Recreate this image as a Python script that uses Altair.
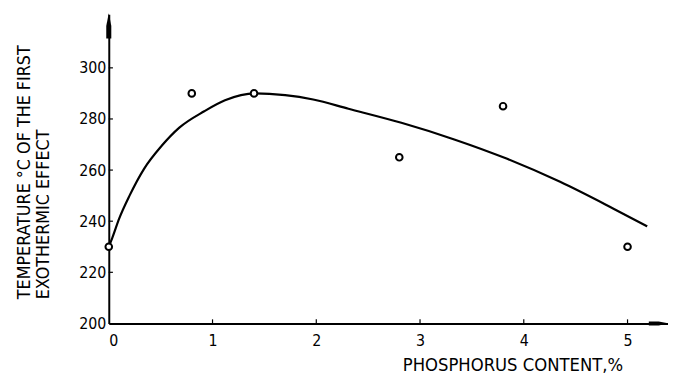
import altair as alt
import pandas as pd

# measured points
pt_x = [0.0, 0.8, 1.4, 2.8, 3.8, 5.0]
pt_y = [230, 290, 290, 265, 285, 230]

# fitted curve
curve_x = [0.0, 0.034, 0.1, 0.2, 0.34, 0.51, 0.68, 0.92, 1.12, 1.41, 1.7, 1.97, 2.31, 2.82, 3.33, 3.84, 4.35, 4.86, 5.19]
curve_y = [230, 233.5, 241, 250, 260.5, 269.5, 276.6, 283, 287.3, 290, 289.3, 287.6, 284, 278.5, 272, 264.4, 255.4, 245, 238]

x_ticks = [0, 1, 2, 3, 4, 5]
y_ticks = [200, 220, 240, 260, 280, 300]

X_MAX = 5.39
Y_MIN, Y_MAX = 200, 321
FONT = "DejaVu Sans Condensed, DejaVu Sans"

pts = pd.DataFrame({"x": pt_x, "y": pt_y})
curve = pd.DataFrame({"x": curve_x, "y": curve_y})

xs = alt.Scale(domain=[0, X_MAX], nice=False, zero=False)
ys = alt.Scale(domain=[Y_MIN, Y_MAX], nice=False, zero=False)

x_axis = alt.Axis(values=x_ticks, format="d", ticks=False, grid=False, domain=True,
                  domainColor="black", domainWidth=2, labelFont=FONT,
                  labelFontSize=16, labelColor="black", labelPadding=9,
                  title="PHOSPHORUS CONTENT,%", titleFont=FONT, titleFontSize=18.5,
                  titleFontWeight="normal", titleColor="black",
                  titleX=520, titleY=42, titleAlign="right", titleBaseline="middle")
y_axis = alt.Axis(values=y_ticks, format="d", ticks=False, grid=False, domain=True,
                  domainColor="black", domainWidth=2, labelFont=FONT,
                  labelFontSize=16, labelColor="black", labelPadding=3,
                  title=["TEMPERATURE °C OF THE FIRST", "EXOTHERMIC EFFECT"],
                  titleFont=FONT, titleFontSize=18, titleFontWeight="normal",
                  titleColor="black", titleAngle=-90, titleX=-76, titleY=288,
                  titleAlign="left", titleBaseline="bottom", titleLineHeight=19)

line = alt.Chart(curve).mark_line(color="black", strokeWidth=2.2, interpolate="monotone").encode(
    x=alt.X("x:Q", scale=xs, axis=x_axis),
    y=alt.Y("y:Q", scale=ys, axis=y_axis),
)

points = alt.Chart(pts).mark_point(shape="circle", filled=True, fill="white",
                                   stroke="black", strokeWidth=2, size=45, opacity=1).encode(
    x=alt.X("x:Q", scale=xs), y=alt.Y("y:Q", scale=ys))

xt = pd.DataFrame({"x": x_ticks[1:], "y": [Y_MIN] * 5, "y2": [Y_MIN + 1.6] * 5})
x_tick_rules = alt.Chart(xt).mark_rule(color="black", strokeWidth=1.2).encode(
    x=alt.X("x:Q", scale=xs), y=alt.Y("y:Q", scale=ys), y2="y2:Q")

yt = pd.DataFrame({"y": y_ticks[1:], "x": [0] * 5, "x2": [0.04] * 5})
y_tick_rules = alt.Chart(yt).mark_rule(color="black", strokeWidth=1.2).encode(
    y=alt.Y("y:Q", scale=ys), x=alt.X("x:Q", scale=xs), x2="x2:Q")

arrow_up = "M -0.2 1 L -0.2 0 L 0 -1 L 0.2 0 L 0.2 1 Z"
arrow_right = "M 1 0 L 0 -0.2 L -1 -0.2 L -1 0.2 L 0 0.2 Z"
arr_up = alt.Chart(pd.DataFrame({"x": [0], "y": [Y_MAX - 4.6]})).mark_point(
    shape=arrow_up, filled=True, color="black", size=650, opacity=1).encode(
    x=alt.X("x:Q", scale=xs), y=alt.Y("y:Q", scale=ys))
arr_right = alt.Chart(pd.DataFrame({"x": [X_MAX - 0.09], "y": [Y_MIN]})).mark_point(
    shape=arrow_right, filled=True, color="black", size=400, opacity=1).encode(
    x=alt.X("x:Q", scale=xs), y=alt.Y("y:Q", scale=ys))

chart = alt.layer(line, x_tick_rules, y_tick_rules, arr_up, arr_right, points).properties(
    width=566, height=313, autosize="none",
    padding={"left": 102, "top": 4, "right": 0, "bottom": 55},
    background="white",
).configure_view(stroke=None)

chart.save("out.html", embed_options={"renderer": "svg", "actions": False})
